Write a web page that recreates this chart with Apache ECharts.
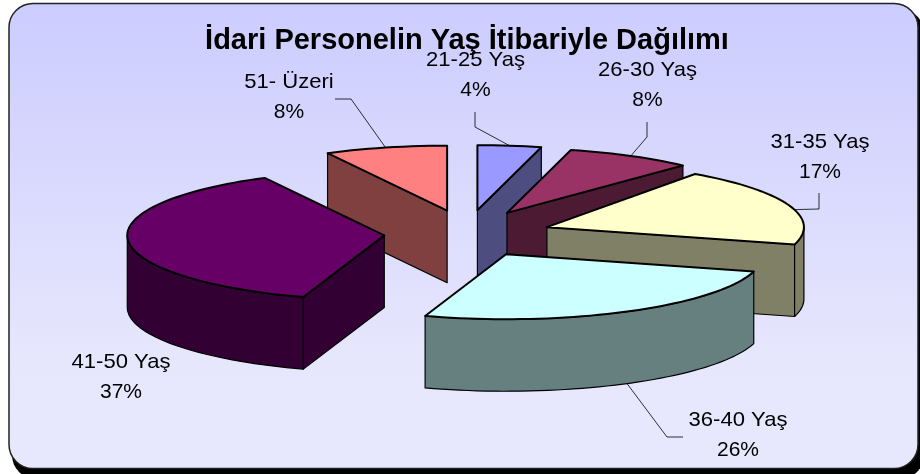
<!DOCTYPE html>
<html><head><meta charset="utf-8">
<style>html,body{margin:0;padding:0;background:#fff}#c{width:920px;height:474px}</style>
<script src="https://cdn.jsdelivr.net/npm/echarts@6/dist/echarts.min.js"></script>
</head><body><div id="c"></div>
<script>
const titleText = 'İdari Personelin Yaş İtibariyle Dağılımı';
const categories = ['21-25 Yaş','26-30 Yaş','31-35 Yaş','36-40 Yaş','41-50 Yaş','51- Üzeri'];
const shares = [4, 8, 17.3, 25.8, 37.2, 7.7];
const topColors = ['#9999FF','#993366','#FFFFCC','#CCFFFF','#660066','#FF8080'];
const sideColors = ['#4D4D80','#4D1A33','#808066','#668080','#330033','#804040'];

// projection of the exploded pie
const pie = {cx:467, cy:233.5, rx:257, ry:65, ex:83, ey:23.5, depth:72};
// label centres and leader elbows, in the order of categories
const labelAt = [[475.5,75],[647.5,85],[820,157],[738,435],[121,377],[289,97]];
const leaders = [
  [[475,127],[475,112]],
  [[647,137],[647,122]],
  [[819,209],[819,193]],
  [[667,437],[683,437]],
  null,
  [[351,99],[335,99]]
];
// the source renderer cuts the leading corner of the 31-35 slice short (degrees)
const leadingTrim = [0,0,8,0,0,0];

const total = shares.reduce((a,b)=>a+b,0);
const rad = d => d*Math.PI/180;
let run = 0;
const slices = shares.map((v,i)=>{
  const a0 = run/total*360; run += v; const a1 = run/total*360;
  const m = rad((a0+a1)/2);
  return {i, v, a0, a1, ox: pie.cx+pie.ex*Math.sin(m), oy: pie.cy-pie.ey*Math.cos(m)};
});
const order = slices.slice().sort((p,q)=>p.oy-q.oy);

function rimPoint(s,a,d){return [s.ox+pie.rx*Math.sin(rad(a)), s.oy-pie.ry*Math.cos(rad(a))+(d||0)];}
function arc(s,a,b,d){
  const n = Math.max(2,Math.ceil(Math.abs(b-a)/2)), pts=[];
  for(let k=0;k<=n;k++) pts.push(rimPoint(s,a+(b-a)*k/n,d));
  return pts;
}
const edge = {stroke:'#000',lineWidth:1.2,lineJoin:'round'};
function renderItem(params){
  const s = order[params.dataIndex], kids=[], D=pie.depth, side=sideColors[s.i];
  const wall=a=>{const r=rimPoint(s,a);
    kids.push({type:'polygon',shape:{points:[[s.ox,s.oy],r,[r[0],r[1]+D],[s.ox,s.oy+D]]},style:Object.assign({fill:side},edge)});};
  if(Math.sin(rad(s.a0))<-1e-6) wall(s.a0);
  if(Math.sin(rad(s.a1))>1e-6) wall(s.a1);
  const f0=Math.max(s.a0,90), f1=Math.min(s.a1,270);
  if(f1>f0){
    kids.push({type:'polygon',shape:{points:arc(s,f0,f1,0).concat(arc(s,f1,f0,D))},style:Object.assign({fill:side},edge)});
  }
  kids.push({type:'polygon',shape:{points:[[s.ox,s.oy]].concat(arc(s,s.a0-leadingTrim[s.i],s.a1,0))},
    style:{fill:topColors[s.i],stroke:'#000',lineWidth:2,lineJoin:'round'}});
  return {type:'group',children:kids};
}
function renderLabels(params){
  const s = slices[params.dataIndex], kids=[], mid=(s.a0+s.a1)/2;
  const L = leaders[s.i];
  if(L){
    const front=Math.cos(rad(mid))<0;
    kids.push({type:'polyline',shape:{points:[rimPoint(s,mid,front?pie.depth:0)].concat(L)},
      style:{fill:'none',stroke:'#000',lineWidth:0.8}});
  }
  const font='21px "Liberation Sans"';
  kids.push({type:'text',x:labelAt[s.i][0],y:labelAt[s.i][1]-15,scaleX:1.05,
    style:{text:categories[s.i],x:0,y:0,align:'center',verticalAlign:'middle',font:font,fill:'#000'}});
  kids.push({type:'text',x:labelAt[s.i][0],y:labelAt[s.i][1]+15,
    style:{text:Math.round(s.v)+'%',x:0,y:0,align:'center',verticalAlign:'middle',font:font,fill:'#000'}});
  return {type:'group',children:kids};
}
const chart = echarts.init(document.getElementById('c'),null,{renderer:'canvas'});
chart.setOption({
  animation:false,
  title:{text:titleText,left:462,top:21,textAlign:'center',z:20,
    textStyle:{fontFamily:'Liberation Sans',fontWeight:'bold',fontSize:29,color:'#000'}},
  graphic:[
    {type:'rect',z:-2,silent:true,shape:{x:12,y:9,width:912,height:470,r:24},style:{fill:'#000'}},
    {type:'rect',z:-1,silent:true,shape:{x:9,y:3.5,width:909,height:465,r:24},
      style:{stroke:'#222',lineWidth:1.5,fill:{type:'linear',x:0,y:0,x2:0,y2:1,
        colorStops:[{offset:0,color:'#CCCCFF'},{offset:0.75,color:'#E6E6FD'},{offset:1,color:'#E8E8FD'}]}}}
  ],
  series:[
    {type:'custom',coordinateSystem:'none',silent:true,z:5,renderItem:renderItem,data:order.map(s=>s.v)},
    {type:'custom',coordinateSystem:'none',silent:true,z:6,renderItem:renderLabels,data:shares}
  ]
});
</script></body></html>
